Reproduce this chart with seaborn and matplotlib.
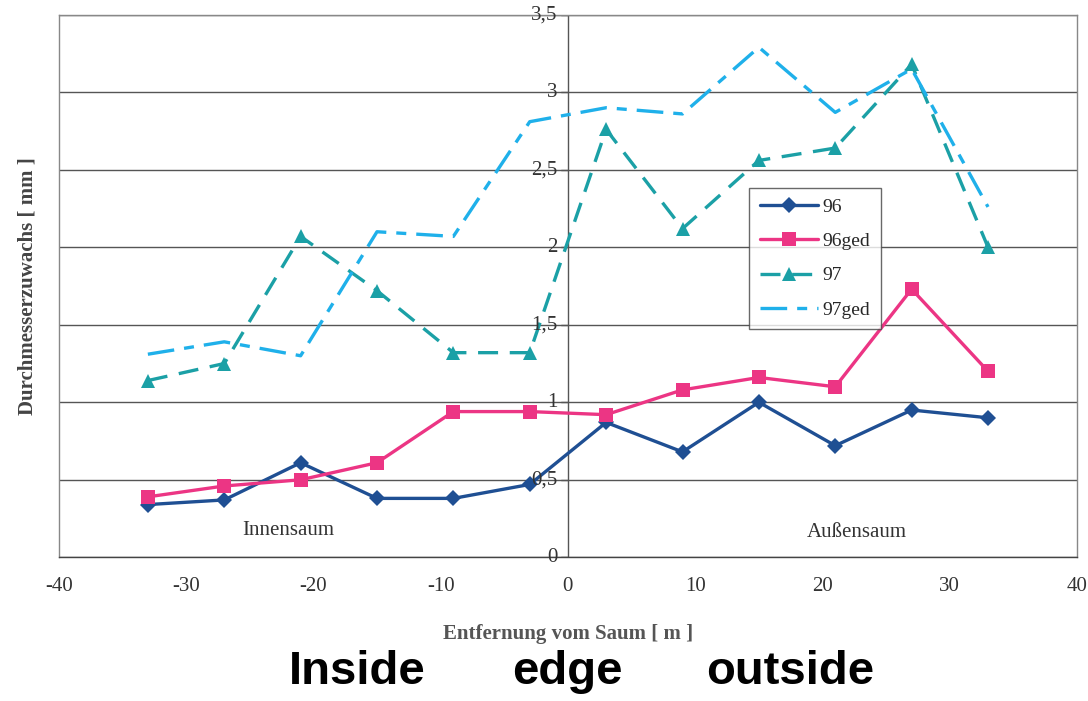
import numpy as np
import pandas as pd
import matplotlib
matplotlib.use("Agg")
import matplotlib.pyplot as plt
import seaborn as sns

sns.set_style("white")
plt.rcParams['font.family'] = ['Liberation Serif', 'DejaVu Serif']

# distance from the edge [m]
dist = [-33, -27, -21, -15, -9, -3, 3, 9, 15, 21, 27, 33]

# diameter increment [mm]
s96 = [0.34, 0.37, 0.61, 0.38, 0.38, 0.47, 0.87, 0.68, 1.00, 0.72, 0.95, 0.90]
s96ged = [0.39, 0.46, 0.50, 0.61, 0.94, 0.94, 0.92, 1.08, 1.16, 1.10, 1.73, 1.20]
s97 = [1.14, 1.25, 2.07, 1.72, 1.32, 1.32, 2.76, 2.12, 2.56, 2.64, 3.18, 2.00]
s97ged = [1.31, 1.39, 1.30, 2.10, 2.07, 2.81, 2.90, 2.86, 3.29, 2.87, 3.15, 2.26]

series_names = ['96', '96ged', '97', '97ged']
ytick_vals = [0, 0.5, 1, 1.5, 2, 2.5, 3, 3.5]
ytick_labels = ['0', '0,5', '1', '1,5', '2', '2,5', '3', '3,5']
xtick_vals = [-40, -30, -20, -10, 0, 10, 20, 30, 40]

df = pd.DataFrame({'dist': dist, '96': s96, '96ged': s96ged, '97': s97, '97ged': s97ged})

fig = plt.figure(figsize=(10.88, 7.01), dpi=100)
ax = fig.add_axes([0.054, 0.205, 0.936, 0.774])

styles = {
    '96': dict(color='#1f4f93', marker='D', markersize=8, linestyle='-'),
    '96ged': dict(color='#ec3584', marker='s', markersize=10, linestyle='-'),
    '97': dict(color='#1ba0a6', marker='^', markersize=10, dashes=(6, 3.5)),
    '97ged': dict(color='#1fb0ea', marker=None, dashes=(8, 3, 3, 3)),
}

for name in series_names:
    st = dict(styles[name])
    dashes = st.pop('dashes', None)
    sns.lineplot(data=df, x='dist', y=name, ax=ax, label=name, linewidth=2.4,
                 markeredgewidth=0, **st)
    if dashes is not None:
        ax.lines[-1].set_dashes(dashes)

ax.set_xlim(-40, 40)
ax.set_ylim(0, 3.5)
ax.set_yticks(ytick_vals)
ax.set_yticklabels([])
ax.set_xticks(xtick_vals)
ax.set_xticklabels([str(v) for v in xtick_vals], fontsize=15, color='#333333')
ax.tick_params(axis='x', direction='out', length=5, color='#555555', pad=9)
ax.tick_params(axis='y', length=0)

for v in ytick_vals:
    ax.axhline(v, color='#555555', linewidth=1.0, zorder=0)
ax.axvline(0, color='#555555', linewidth=1.0, zorder=0)
for v, lab in zip(ytick_vals, ytick_labels):
    ax.plot([-0.55, 0], [v, v], color='#555555', linewidth=1.0, zorder=0)
    ax.text(-0.8, v, lab, ha='right', va='center', fontsize=15, color='#333333')

for sp in ax.spines.values():
    sp.set_color('#888888')
    sp.set_linewidth(1.0)
ax.spines['bottom'].set_color('#444444')

ax.set_xlabel('Entfernung vom Saum [ m ]', fontsize=15, fontweight='bold', color='#555555', labelpad=20)
ax.set_ylabel('Durchmesserzuwachs [ mm ]', fontsize=15, fontweight='bold', color='#444444', labelpad=12)

ax.text(-22, 0.17, 'Innensaum', ha='center', va='center', fontsize=15, color='#333333')
ax.text(22.7, 0.16, 'Außensaum', ha='center', va='center', fontsize=15, color='#333333')

leg = ax.legend(loc='upper left', bbox_to_anchor=(0.678, 0.681), fontsize=14, frameon=True,
                fancybox=False, edgecolor='#444444', handlelength=3.0, labelspacing=0.85,
                borderpad=0.55, handletextpad=0.2, borderaxespad=0)
leg.get_frame().set_linewidth(1.0)

for x, word in [(357, 'Inside'), (567, 'edge'), (790, 'outside')]:
    fig.text(x / 1088, 1 - 672 / 701, word, ha='center', va='center', fontsize=34,
             fontweight='bold', family=['Liberation Sans', 'DejaVu Sans'], color='black')

fig.savefig('out.png', dpi=100)
